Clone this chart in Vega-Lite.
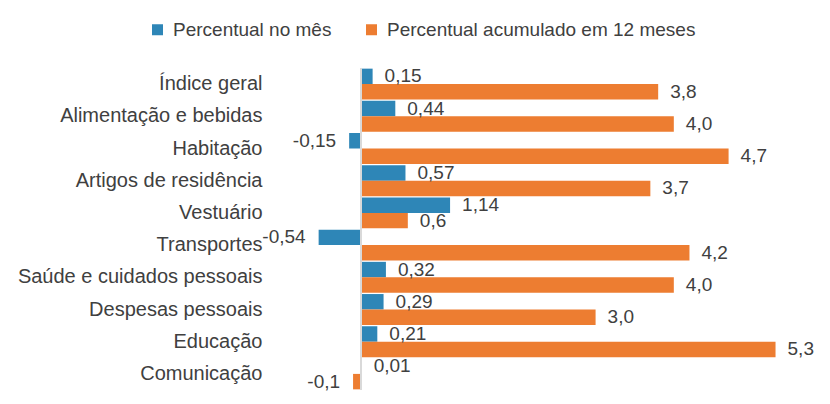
{
  "$schema": "https://vega.github.io/schema/vega-lite/v6.json",
  "width": 532,
  "height": 322,
  "autosize": "none",
  "padding": {"left": 267, "top": 68, "right": 31, "bottom": 14},
  "background": "white",
  "config": {
    "view": {"stroke": null},
    "font": "Liberation Sans",
    "text": {"font": "Liberation Sans"}
  },
  "data": {
    "values": [
      {"cat": "Índice geral", "serie": "Percentual no mês", "value": 0.15, "label": "0,15"},
      {"cat": "Índice geral", "serie": "Percentual acumulado em 12 meses", "value": 3.8, "label": "3,8"},
      {"cat": "Alimentação e bebidas", "serie": "Percentual no mês", "value": 0.44, "label": "0,44"},
      {"cat": "Alimentação e bebidas", "serie": "Percentual acumulado em 12 meses", "value": 4.0, "label": "4,0"},
      {"cat": "Habitação", "serie": "Percentual no mês", "value": -0.15, "label": "-0,15"},
      {"cat": "Habitação", "serie": "Percentual acumulado em 12 meses", "value": 4.7, "label": "4,7"},
      {"cat": "Artigos de residência", "serie": "Percentual no mês", "value": 0.57, "label": "0,57"},
      {"cat": "Artigos de residência", "serie": "Percentual acumulado em 12 meses", "value": 3.7, "label": "3,7"},
      {"cat": "Vestuário", "serie": "Percentual no mês", "value": 1.14, "label": "1,14"},
      {"cat": "Vestuário", "serie": "Percentual acumulado em 12 meses", "value": 0.6, "label": "0,6"},
      {"cat": "Transportes", "serie": "Percentual no mês", "value": -0.54, "label": "-0,54"},
      {"cat": "Transportes", "serie": "Percentual acumulado em 12 meses", "value": 4.2, "label": "4,2"},
      {"cat": "Saúde e cuidados pessoais", "serie": "Percentual no mês", "value": 0.32, "label": "0,32"},
      {"cat": "Saúde e cuidados pessoais", "serie": "Percentual acumulado em 12 meses", "value": 4.0, "label": "4,0"},
      {"cat": "Despesas pessoais", "serie": "Percentual no mês", "value": 0.29, "label": "0,29"},
      {"cat": "Despesas pessoais", "serie": "Percentual acumulado em 12 meses", "value": 3.0, "label": "3,0"},
      {"cat": "Educação", "serie": "Percentual no mês", "value": 0.21, "label": "0,21"},
      {"cat": "Educação", "serie": "Percentual acumulado em 12 meses", "value": 5.3, "label": "5,3"},
      {"cat": "Comunicação", "serie": "Percentual no mês", "value": 0.01, "label": "0,01"},
      {"cat": "Comunicação", "serie": "Percentual acumulado em 12 meses", "value": -0.1, "label": "-0,1"}
    ]
  },
  "encoding": {
    "y": {
      "field": "cat", "type": "nominal", "sort": null, "title": null,
      "scale": {"paddingInner": 0.04, "paddingOuter": 0.02},
      "axis": {"domain": false, "ticks": false, "labelPadding": 5, "labelFontSize": 20, "labelColor": "#404040", "labelFont": "Liberation Sans", "labelLimit": 0}
    },
    "yOffset": {"field": "serie", "type": "nominal", "sort": ["Percentual no mês", "Percentual acumulado em 12 meses"]},
    "x": {
      "field": "value", "type": "quantitative", "title": null,
      "scale": {"domain": [-1.2, 5.6], "nice": false, "zero": false},
      "axis": null
    }
  },
  "layer": [
    {
      "mark": {"type": "bar"},
      "encoding": {
        "color": {
          "field": "serie", "type": "nominal", "title": null,
          "sort": ["Percentual no mês", "Percentual acumulado em 12 meses"],
          "scale": {"domain": ["Percentual no mês", "Percentual acumulado em 12 meses"], "range": ["#2E86B7", "#ED7D31"]},
          "legend": {
            "orient": "none", "direction": "horizontal", "legendX": -119, "legendY": -48,
            "symbolType": "square", "symbolSize": 121, "symbolStrokeWidth": 0,
            "labelFontSize": 19, "labelColor": "#404040", "labelFont": "Liberation Sans", "labelLimit": 0,
            "columnPadding": 30, "labelOffset": 6
          }
        }
      }
    },
    {
      "mark": {"type": "rule", "color": "#d9d9d9", "strokeWidth": 1.5},
      "encoding": {"x": {"datum": 0}, "y": null, "yOffset": null}
    },
    {
      "transform": [{"filter": "datum.value >= 0"}],
      "mark": {"type": "text", "align": "left", "dx": 12, "fontSize": 19, "color": "#404040", "font": "Liberation Sans"},
      "encoding": {"text": {"field": "label"}}
    },
    {
      "transform": [{"filter": "datum.value < 0"}],
      "mark": {"type": "text", "align": "right", "dx": -13, "fontSize": 19, "color": "#404040", "font": "Liberation Sans"},
      "encoding": {"text": {"field": "label"}}
    }
  ]
}
